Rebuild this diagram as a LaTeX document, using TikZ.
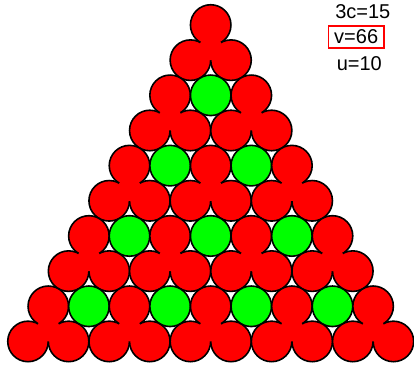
\documentclass[tikz,border=0pt]{standalone}
\usepackage{fontspec}
\setmainfont{Liberation Sans}
\usepackage{tikz}
\usetikzlibrary{positioning}

\begin{document}
\begin{tikzpicture}[x=0.75pt,y=-0.75pt,
    ball/.style={circle,draw=black,line width=1.2pt,minimum size=30.4pt,inner sep=0pt},
    redball/.style={ball,fill=red},
    greenball/.style={ball,fill=green},
    lbl/.style={anchor=base west,inner sep=0pt,font=\fontsize{15}{18}\selectfont},
    countbox/.style={draw=red,line width=1.1pt,font=\fontsize{15}{18}\selectfont,
                     text height=10.5pt,text depth=0pt,inner ysep=3pt,minimum width=41.5pt}
  ]
    \useasboundingbox (0,0) rectangle (414,366);
    % rows of balls, green ones in the gaps between trefoils
    \foreach \i in {0,...,9}{
      \foreach \j in {0,...,\i}{
        \pgfmathsetmacro{\cx}{210.7+(\j-\i/2)*40.6}
        \pgfmathsetmacro{\cy}{25+\i*35.16}
        \pgfmathtruncatemacro{\isgreen}{and(mod(\i,2)==0,mod(\j,2)==1)}
        \ifnum\isgreen=1 \def\kind{greenball}\else \def\kind{redball}\fi
        \node[\kind] (b-\i-\j) at (\cx,\cy) {};
      }
    }
    % fill the middle of each trefoil
    \foreach \a in {0,...,4}{
      \foreach \b in {0,...,\a}{
        \pgfmathtruncatemacro{\i}{2*\a}
        \pgfmathtruncatemacro{\j}{2*\b}
        \pgfmathtruncatemacro{\k}{\i+1}
        \pgfmathtruncatemacro{\l}{\j+1}
        \fill[red] (b-\i-\j.center) -- (b-\k-\j.center) -- (b-\k-\l.center) -- cycle;
      }
    }
    \node[lbl] (c) at (335,19) {3c=15};
    \node[countbox] (v) at (356.2,36.9) {v=66};
    \node[lbl] (u) at (336.5,71) {u=10};
  \end{tikzpicture}
\end{document}
